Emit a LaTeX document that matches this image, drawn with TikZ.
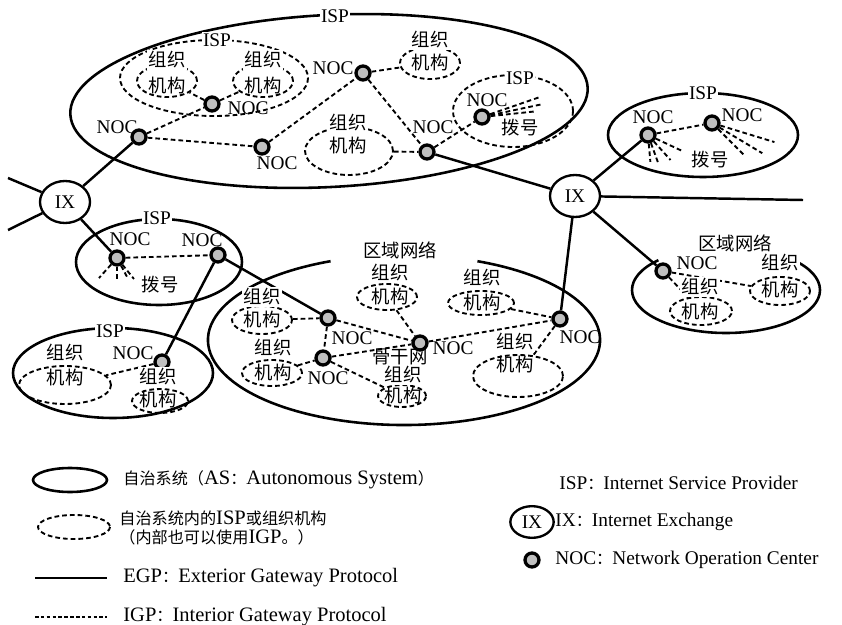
\documentclass[tikz,border=0pt]{standalone}
\usepackage{fontspec}
\setmainfont{Liberation Serif}
\newfontfamily\cjk[Scale=0.95]{Noto Sans CJK SC}
\usetikzlibrary{shapes.geometric}

\newcommand\zh[1]{{\cjk #1}}
\newcommand\zl[1]{{\cjk\fontsize{14.5}{17}\selectfont #1}}

\begin{document}
\begin{tikzpicture}[x=0.03cm, y=-0.03cm, every node/.style={font=\fontsize{16.5}{18}\selectfont, inner sep=1pt},
			egp/.style={line width=2.1pt},
			igp/.style={line width=1.6pt, dash pattern=on 4pt off 2.6pt},
			asline/.style={line width=2.2pt},
			nocpt/.style={circle, draw, line width=2.8pt, fill=gray!50, minimum size=0.42cm, inner sep=0pt},
			ixnode/.style={ellipse, draw, line width=2pt, fill=white, minimum width=1.5cm, minimum height=1.26cm, inner sep=0pt},
			orgell/.style 2 args={ellipse, draw, igp, minimum width=#1*0.03cm, minimum height=#2*0.03cm, inner sep=0pt},
			wlbl/.style={fill=white, inner sep=1pt},
			legtxt/.style={anchor=west, font=\fontsize{17.5}{17}\selectfont, align=left}]
			\useasboundingbox (0,0) rectangle (842,625);

			\draw[asline, rotate around={3:(329,101)}] (329,101) ellipse (259 and 86);
			\draw[igp] (214,78) ellipse (94 and 38);
			\draw[igp] (513,111) ellipse (60 and 36);
			\draw[asline] (703,135) ellipse (95 and 42);
			\draw[asline] (159,262) ellipse (83 and 43);
			\draw[asline] (113,373) ellipse (100 and 45);
			\draw[asline] (404,340) ++(68:5.88cm and 2.55cm) arc[start angle=68, end angle=-248, x radius=5.88cm, y radius=2.55cm];
			\draw[asline] (726,290) ++(45:2.82cm and 1.29cm) arc[start angle=45, end angle=-224, x radius=2.82cm, y radius=1.29cm];

			\node[orgell={60}{32}] (o1) at (167,81) {};
			\node[orgell={60}{32}] (o2) at (263,81) {};
			\node[orgell={60}{32}] (o3) at (430,63) {};
			\node[orgell={88}{48}] (o4) at (349,151) {};
			\node[orgell={92}{38}] (o5) at (65,385) {};
			\node[orgell={56}{24}] (o6) at (160,401) {};
			\node[orgell={60}{28}] (oA) at (262,320) {};
			\node[orgell={60}{26}] (oB) at (272,373) {};
			\node[orgell={60}{26}] (oC) at (387,297) {};
			\node[orgell={66}{24}] (oD) at (481,303) {};
			\node[orgell={48}{22}] (oE) at (402,396) {};
			\node[orgell={90}{42}] (oF) at (518,376) {};
			\node[orgell={62}{28}] (oK) at (701,311) {};
			\node[orgell={60}{28}] (oL) at (780,291) {};

			\node[nocpt] (nA) at (212,104) {};
			\node[nocpt] (nB) at (139,137) {};
			\node[nocpt] (nC) at (262,147) {};
			\node[nocpt] (nD) at (363,73) {};
			\node[nocpt] (nE) at (427,152) {};
			\node[nocpt] (nF) at (482,117) {};
			\node[nocpt] (nG) at (117,258) {};
			\node[nocpt] (nH) at (648,135) {};
			\node[nocpt] (nI) at (712,123) {};
			\node[nocpt] (nK) at (663,271) {};
			\node[nocpt] (nM) at (218,255) {};
			\node[nocpt] (nN) at (162,362) {};
			\node[nocpt] (nP) at (328,318) {};
			\node[nocpt] (nQ) at (323,358) {};
			\node[nocpt] (nR) at (420,343) {};
			\node[nocpt] (nS) at (560,319) {};

			\node[ixnode] (ix1) at (65,202) {IX};
			\node[ixnode] (ix2) at (575,196) {IX};
			\coordinate (w1) at (8,178);
			\coordinate (w2) at (8,230);
			\coordinate (e1) at (803,200);

			\draw[egp] (w1) -- (ix1);
			\draw[egp] (w2) -- (ix1);
			\draw[egp] (ix1) -- (nB);
			\draw[egp] (ix1) -- (nG);
			\draw[egp] (nM) -- (nN);
			\draw[egp] (nM) -- (nP);
			\draw[egp] (nE) -- (ix2);
			\draw[egp] (ix2) -- (e1);
			\draw[egp] (ix2) -- (nH);
			\draw[egp] (ix2) -- (nK);
			\draw[egp] (ix2) -- (nS);

			\draw[igp] (nB) -- (nA);
			\draw[igp] (nB) -- (nC);
			\draw[igp] (nC) -- (nD);
			\draw[igp] (nD) -- (o3);
			\draw[igp] (nD) -- (nE);
			\draw[igp] (o4) -- (nE);
			\draw[igp] (nE) -- (nF);
			\draw[igp] (nA) -- (o1);
			\draw[igp] (nA) -- (o2);
			\draw[igp] (nG) -- (nM);
			\draw[igp] (nN) -- (o5);
			\draw[igp] (nH) -- (nI);
			\draw[igp] (nK) -- (oK);
			\draw[igp] (nK) -- (oL);
			\draw[igp] (oA) -- (nP);
			\draw[igp] (nP) -- (nQ);
			\draw[igp] (nP) -- (nR);
			\draw[igp] (nQ) -- (nR);
			\draw[igp] (oB) -- (nQ);
			\draw[igp] (nQ) -- (oE);
			\draw[igp] (oC) -- (nR);
			\draw[igp] (nR) -- (nS);
			\draw[igp] (oD) -- (nS);
			\draw[igp] (nS) -- (oF);

			\foreach \a/\l in {19/1.6, 12/1.6, 6/1.3} \draw[igp] (nF.\a) -- ++(\a:\l cm);
			\foreach \a/\l in {-85/0.55, -70/0.65, -48/0.75, -25/0.85} \draw[igp] (nH.\a) -- ++(\a:\l cm);
			\foreach \a/\l in {-17/1.7, -31/1.5, -45/1.1} \draw[igp] (nI.\a) -- ++(\a:\l cm);
			\foreach \a/\l in {-132/0.55, -90/0.4, -62/0.45, -51/0.55} \draw[igp] (nG.\a) -- ++(\a:\l cm);

			\node[wlbl] (s1) at (335,16) {ISP};
			\node[wlbl] (s2) at (217,40) {ISP};
			\node[wlbl] (s3) at (520,78) {ISP};
			\node[wlbl] (s4) at (703,93) {ISP};
			\node[wlbl] (s5) at (157,218) {ISP};
			\node[wlbl] (s6) at (110,331) {ISP};
			\node[wlbl] (r1) at (400,250) {\zh{区域网络}};
			\node[wlbl] (r2) at (735,243) {\zh{区域网络}};

			\node[wlbl] (g1) at (167,60) {\zh{组织}};
			\node (j1) at (167,86) {\zh{机构}};
			\node[wlbl] (g2) at (263,60) {\zh{组织}};
			\node (j2) at (263,86) {\zh{机构}};
			\node[wlbl] (g3) at (430,40) {\zh{组织}};
			\node (j3) at (430,63) {\zh{机构}};
			\node[wlbl] (g4) at (348,123) {\zh{组织}};
			\node (j4) at (348,146) {\zh{机构}};
			\node[wlbl] (g5) at (65,353) {\zh{组织}};
			\node (j5) at (65,378) {\zh{机构}};
			\node[wlbl] (g6) at (158,377) {\zh{组织}};
			\node (j6) at (158,400) {\zh{机构}};
			\node[wlbl] (gA) at (262,297) {\zh{组织}};
			\node (jA) at (262,320) {\zh{机构}};
			\node[wlbl] (gB) at (273,348) {\zh{组织}};
			\node (jB) at (273,373) {\zh{机构}};
			\node[wlbl] (gC) at (390,273) {\zh{组织}};
			\node (jC) at (390,297) {\zh{机构}};
			\node[wlbl] (gD) at (482,278) {\zh{组织}};
			\node (jD) at (482,303) {\zh{机构}};
			\node[wlbl] (gE) at (403,375) {\zh{组织}};
			\node (jE) at (403,396) {\zh{机构}};
			\node[wlbl] (gF) at (515,342) {\zh{组织}};
			\node (jF) at (515,365) {\zh{机构}};
			\node[wlbl] (gK) at (700,287) {\zh{组织}};
			\node (jK) at (700,312) {\zh{机构}};
			\node[wlbl] (gL) at (780,263) {\zh{组织}};
			\node (jL) at (780,290) {\zh{机构}};

			\node (tA) at (248,108) {NOC};
			\node (tB) at (117,127) {NOC};
			\node (tC) at (277,163) {NOC};
			\node (tD) at (333,68) {NOC};
			\node (tE) at (433,127) {NOC};
			\node (tF) at (487,100) {NOC};
			\node (tG) at (130,239) {NOC};
			\node (tH) at (653,117) {NOC};
			\node (tI) at (742,115) {NOC};
			\node (tK) at (697,263) {NOC};
			\node (tM) at (202,240) {NOC};
			\node (tN) at (133,353) {NOC};
			\node (tP) at (352,338) {NOC};
			\node (tQ) at (328,378) {NOC};
			\node (tR) at (453,348) {NOC};
			\node (tS) at (580,337) {NOC};
			\node (bb) at (400,357) {\zh{骨干网}};
			\node (d1) at (520,128) {\zh{拨号}};
			\node (d2) at (710,160) {\zh{拨号}};
			\node (d3) at (160,285) {\zh{拨号}};

			\draw[asline] (70,480) ellipse (37 and 12);
			\node[legtxt] (k1) at (122,480) {\zl{自治系统（}AS\zl{：}Autonomous System\zl{）}};
			\draw[igp] (74,527) ellipse (36 and 12);
			\node[legtxt] (k2) at (118,528) {\zl{自治系统内的}ISP\zl{或组织机构}\\\zl{（内部也可以使用}IGP\zl{。）}};
			\draw[egp] (35,578) -- (107,578);
			\node[legtxt] (k3) at (122,578) {EGP\zl{：}Exterior Gateway Protocol};
			\draw[line width=1.4pt, dash pattern=on 3pt off 2pt] (35,617) -- (107,617);
			\node[legtxt] (k4) at (122,617) {IGP\zl{：}Interior Gateway Protocol};
			\node[legtxt, font=\fontsize{16.5}{17}\selectfont] (k5) at (558,483) {ISP\zl{：}Internet Service Provider};
			\node[ixnode, minimum width=1.3cm, minimum height=0.95cm] (kix) at (532,522) {IX};
			\node[legtxt, font=\fontsize{16.5}{17}\selectfont] (k6) at (554,522) {IX\zl{：}Internet Exchange};
			\node[nocpt] (knoc) at (532,560) {};
			\node[legtxt, font=\fontsize{16.5}{17}\selectfont] (k7) at (554,560) {NOC\zl{：}Network Operation Center};
		\end{tikzpicture}
\end{document}
